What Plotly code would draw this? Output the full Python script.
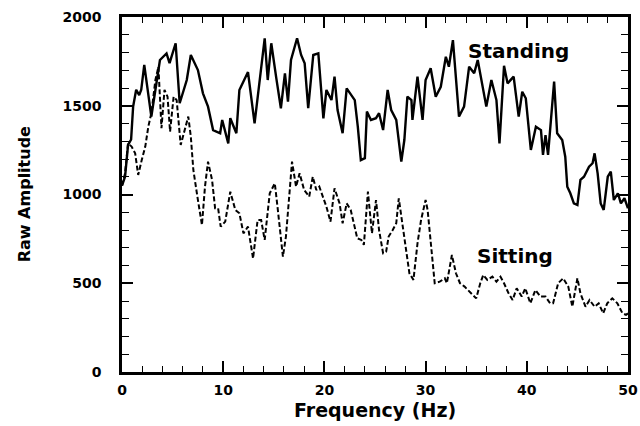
import plotly.graph_objects as go

# ---------------- data ----------------
standing_hz = [0, 0.3, 0.6, 0.9, 1.1, 1.4, 1.7, 1.9, 2.2, 2.9,
               3.75, 4.4, 4.7, 5.3, 5.7, 6.4, 6.8, 7.5, 8.0, 8.5,
               9.0, 9.7, 9.9, 10.5, 10.7, 11.3, 11.6, 12.45, 13.1, 13.4,
               13.9, 14.1, 14.4, 14.75, 15.25, 15.7, 16.1, 16.4, 16.7, 17.3,
               17.7, 18.05, 18.4, 18.9, 19.4, 19.9, 20.2, 20.7, 21.0, 21.3,
               21.8, 22.2, 23.0, 23.3, 23.6, 24.0, 24.2, 24.6, 25.1, 25.4,
               25.8, 26.25, 26.6, 27.1, 27.6, 27.9, 28.2, 28.6, 28.7, 29.2,
               29.7, 30.0, 30.5, 31.0, 31.5, 32.0, 32.3, 32.7, 33.3, 33.8,
               34.3, 34.8, 35.15, 35.6, 36.0, 36.5, 37.0, 37.3, 37.75, 38.1,
               38.4, 38.7, 39.2, 39.55, 39.9, 40.4, 40.9, 41.4, 41.6, 41.85,
               42.1, 42.4, 42.7, 43.0, 43.5, 43.8, 44.0, 44.3, 44.65, 45.0,
               45.3, 45.65, 46.15, 46.5, 46.7, 47.0, 47.3, 47.6, 48.0, 48.3,
               48.6, 49.0, 49.3, 49.65, 50.0]
standing_amp = [1050, 1100, 1280, 1310, 1495, 1590, 1560, 1590, 1730, 1439,
                1758, 1795, 1740, 1852, 1514, 1645, 1786, 1701, 1570, 1495,
                1363, 1345, 1420, 1288, 1430, 1345, 1589, 1690, 1401, 1551,
                1776, 1880, 1645, 1852, 1654, 1486, 1683, 1523, 1758, 1880,
                1786, 1739, 1486, 1786, 1795, 1429, 1589, 1532, 1664, 1476,
                1345, 1598, 1532, 1382, 1194, 1205, 1467, 1420, 1430, 1458,
                1363, 1589, 1476, 1420, 1185, 1307, 1551, 1532, 1420, 1664,
                1420, 1645, 1711, 1551, 1607, 1776, 1720, 1870, 1439, 1495,
                1720, 1683, 1758, 1626, 1495, 1645, 1532, 1288, 1725, 1626,
                1645, 1664, 1439, 1579, 1542, 1251, 1382, 1363, 1223, 1335,
                1223, 1439, 1636, 1345, 1307, 1213, 1044, 1007, 950, 941,
                1082, 1100, 1157, 1176, 1232, 1119, 950, 913, 1100, 1129,
                969, 1007, 950, 979, 922]

sitting_hz = [0, 0.3, 0.6, 0.95, 1.3, 1.6, 1.95, 2.3, 2.6, 2.9,
              3.3, 3.6, 3.9, 4.2, 4.5, 4.75, 5.1, 5.4, 5.8, 6.2,
              6.55, 6.8, 7.05, 7.45, 7.9, 8.2, 8.5, 8.9, 9.2, 9.5,
              9.75, 10.2, 10.7, 11.2, 11.6, 12.0, 12.45, 12.95, 13.4, 13.75,
              14.1, 14.6, 15.1, 15.4, 15.9, 16.2, 16.6, 16.8, 17.2, 17.55,
              18.0, 18.5, 18.85, 19.2, 19.5, 20.2, 20.6, 21.0, 21.5, 21.8,
              22.2, 22.6, 23.25, 23.65, 23.9, 24.3, 24.7, 25.1, 25.4, 25.8,
              26.1, 26.35, 26.75, 27.1, 27.35, 27.7, 28.1, 28.4, 28.8, 29.2,
              29.55, 30.0, 30.2, 30.55, 30.9, 31.4, 31.9, 32.1, 32.6, 33.0,
              33.4, 33.85, 34.3, 35.0, 35.4, 35.7, 36.1, 36.6, 37.0, 37.4,
              37.75, 38.2, 38.6, 39.0, 39.5, 39.85, 40.35, 40.85, 41.35, 41.85,
              42.3, 42.6, 43.1, 43.6, 44.1, 44.5, 45.0, 45.3, 45.8, 46.2,
              46.7, 47.1, 47.55, 47.95, 48.45, 48.95, 49.45, 49.8, 50.0]
sitting_amp = [1050, 1119, 1288, 1270, 1232, 1110, 1194, 1270, 1382, 1458,
               1645, 1720, 1373, 1589, 1551, 1354, 1551, 1532, 1279, 1363,
               1439, 1326, 1138, 988, 828, 1044, 1185, 1082, 922, 922,
               819, 847, 1016, 913, 894, 781, 819, 640, 856, 856,
               744, 1007, 1063, 913, 650, 763, 1082, 1185, 1044, 1119,
               1025, 988, 1100, 1025, 1044, 931, 847, 1035, 950, 838,
               950, 913, 753, 744, 716, 1016, 781, 969, 800, 669,
               678, 763, 800, 838, 978, 838, 687, 556, 519, 725,
               856, 969, 913, 706, 500, 509, 528, 500, 659, 556,
               500, 481, 453, 415, 500, 547, 519, 537, 509, 537,
               500, 443, 406, 472, 425, 472, 387, 462, 425, 425,
               387, 387, 500, 528, 481, 368, 528, 443, 368, 406,
               368, 387, 331, 387, 415, 387, 331, 322, 330]

x_ticks = [0, 10, 20, 30, 40, 50]
y_ticks = [0, 500, 1000, 1500, 2000]

series_labels = ["Standing", "Sitting"]
label_pos_hz = [39.2, 38.8]
label_pos_amp = [1810, 655]

FONT = "DejaVu Sans"

fig = go.Figure()
fig.add_trace(go.Scatter(x=standing_hz, y=standing_amp, mode="lines",
                         line=dict(color="black", width=2.4), name="Standing",
                         showlegend=False))
fig.add_trace(go.Scatter(x=sitting_hz, y=sitting_amp, mode="lines",
                         line=dict(color="black", width=2, dash="5px,2.5px"),
                         name="Sitting", showlegend=False))

for txt, xv, yv in zip(series_labels, label_pos_hz, label_pos_amp):
    fig.add_annotation(x=xv, y=yv, text=txt, showarrow=False,
                       xanchor="center", yanchor="middle",
                       font=dict(family=FONT, size=20, color="black", weight="bold"))

fig.add_annotation(xref="paper", yref="paper", x=-0.192, y=0.5,
                   text="Raw Amplitude", textangle=-90, showarrow=False,
                   xanchor="center", yanchor="middle",
                   font=dict(family=FONT, size=16, color="black", weight="bold"))
fig.add_annotation(xref="paper", yref="paper", x=0.5, y=-0.107,
                   text="Frequency (Hz)", showarrow=False,
                   xanchor="center", yanchor="middle",
                   font=dict(family=FONT, size=19, color="black", weight="bold"))

fig.update_xaxes(range=[0, 50], tickvals=x_ticks, ticks="inside", ticklen=11,
                 tickwidth=1.5, tickcolor="black", showline=True, linewidth=2.5,
                 linecolor="black", mirror="allticks", showgrid=False, zeroline=False,
                 automargin=False,
                 minor=dict(dtick=2, ticks="inside", ticklen=6, tickwidth=1.2,
                            tickcolor="black", showgrid=False),
                 tickfont=dict(family=FONT, size=14, color="black", weight="bold"),
                 ticklabelstandoff=3)
fig.update_yaxes(range=[0, 2000], tickvals=y_ticks, ticks="inside", ticklen=11,
                 tickwidth=1.5, tickcolor="black", showline=True, linewidth=2.5,
                 linecolor="black", mirror="allticks", showgrid=False, zeroline=False,
                 automargin=False,
                 minor=dict(dtick=100, ticks="inside", ticklen=7, tickwidth=1.2,
                            tickcolor="black", showgrid=False),
                 tickfont=dict(family=FONT, size=14, color="black", weight="bold"),
                 ticklabelstandoff=15)

fig.update_layout(width=640, height=426,
                  margin=dict(l=122, r=12, t=17, b=54),
                  paper_bgcolor="white", plot_bgcolor="white")

fig.write_html("out.html", config={"displayModeBar": False},
               post_script="document.body.style.margin='0';document.body.style.overflow='hidden';")
